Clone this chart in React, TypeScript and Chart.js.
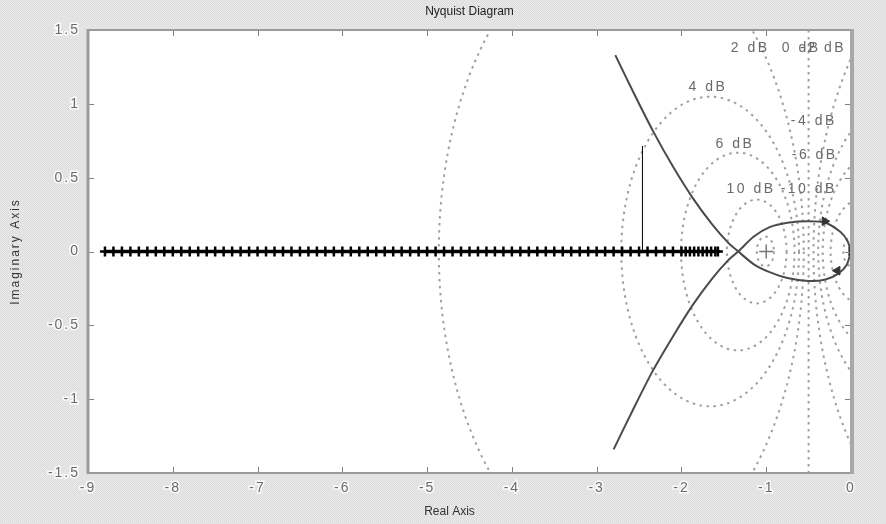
import { useEffect, useRef } from "react";
import { Chart, registerables } from "chart.js";

Chart.register(...registerables);

// ---- axes ----
const xMin = -9;
const xMax = 0;
const yMin = -1.5;
const yMax = 1.5;

// ---- M-circle grid (closed-loop gain, dB) ----
const mCircleDb = [-20, -10, -6, -4, -2, 0, 2, 4, 6, 10, 20];
const mLabelText = ["2 dB", "0 dB", "-2 dB", "4 dB", "-4 dB", "6 dB", "-6 dB", "10 dB", "-10 dB"];
const mLabelX = [-1.2, -0.6, -0.34, -1.7, -0.45, -1.38, -0.44, -1.19, -0.51];
const mLabelY = [1.38, 1.38, 1.38, 1.11, 0.88, 0.73, 0.65, 0.42, 0.42];

// ---- Nyquist curve: branch from top-left, through crossing, lower loop to origin ----
const branchAX = [-2.78, -2.56, -2.33, -2.1, -1.87, -1.64, -1.45, -1.33, -1.15, -0.96, -0.75, -0.5, -0.3, -0.15, -0.05, 0];
const branchAY = [1.33, 1.07, 0.81, 0.575, 0.365, 0.185, 0.06, 0, -0.085, -0.14, -0.18, -0.2, -0.19, -0.15, -0.09, 0];
// mirror branch: bottom-left, through crossing, upper loop to origin
const branchBX = [-2.8, -2.57, -2.34, -2.1, -1.87, -1.64, -1.45, -1.33, -1.15, -0.96, -0.75, -0.5, -0.3, -0.12, -0.04, 0];
const branchBY = [-1.34, -1.07, -0.81, -0.575, -0.365, -0.185, -0.06, 0, 0.1, 0.165, 0.195, 0.205, 0.195, 0.13, 0.07, 0];

// ---- marked points along the real axis ----
const crossX = [
  -8.8, -8.7, -8.6, -8.5, -8.4, -8.3, -8.2, -8.1, -8.0, -7.9, -7.8, -7.7, -7.6, -7.5, -7.4, -7.3, -7.2, -7.1,
  -7.0, -6.9, -6.8, -6.7, -6.6, -6.5, -6.4, -6.3, -6.2, -6.1, -6.0, -5.9, -5.8, -5.7, -5.6, -5.5, -5.4, -5.3,
  -5.2, -5.1, -5.0, -4.9, -4.8, -4.7, -4.6, -4.5, -4.4, -4.3, -4.2, -4.1, -4.0, -3.9, -3.8, -3.7, -3.6, -3.5,
  -3.4, -3.3, -3.2, -3.1, -3.0, -2.9, -2.8, -2.7, -2.6, -2.5, -2.4, -2.3, -2.2, -2.1, -2.0, -1.95, -1.9, -1.85,
  -1.8, -1.75, -1.7, -1.65, -1.6, -1.57,
];
const crossY = crossX.map(() => 0);

// ---- vertical marker line ----
const markerLineX = [-2.46, -2.46];
const markerLineY = [0, 0.715];

// ---- direction arrows and special points ----
const arrowX = [-0.31, -0.16, 0.005];
const arrowY = [0.205, -0.13, 0];
const arrowRot = [90, -90, 90];
const criticalX = [-1];
const criticalY = [0];

const pts = (xs: number[], ys: number[]) => xs.map((x, i) => ({ x, y: ys[i] }));

const FONT = "'Liberation Sans', Arial, Helvetica, sans-serif";

let bgPattern: CanvasPattern | null = null;
function getPattern(ctx: CanvasRenderingContext2D) {
  if (bgPattern) return bgPattern;
  const c = document.createElement("canvas");
  c.width = 2;
  c.height = 2;
  const g = c.getContext("2d")!;
  g.fillStyle = "#e9e9e9";
  g.fillRect(0, 0, 2, 2);
  g.fillStyle = "#dddddd";
  g.fillRect(0, 0, 1, 1);
  g.fillRect(1, 1, 1, 1);
  bgPattern = ctx.createPattern(c, "repeat");
  return bgPattern;
}

const backgroundPlugin = {
  id: "bgPlugin",
  beforeDraw(chart: any) {
    const { ctx, chartArea: a, width, height } = chart;
    ctx.save();
    ctx.fillStyle = getPattern(ctx) || "#e4e4e4";
    ctx.fillRect(0, 0, width, height);
    ctx.fillStyle = "#ffffff";
    ctx.fillRect(a.left, a.top, a.right - a.left, a.bottom - a.top);
    ctx.restore();
    // wide letter spacing for the axis texts drawn by the library
    (ctx as any).letterSpacing = "2px";
  },
};

const gridPlugin = {
  id: "mCircles",
  beforeDatasetsDraw(chart: any) {
    const { ctx, chartArea: a } = chart;
    const xs = chart.scales.x;
    const ys = chart.scales.y;
    ctx.save();
    ctx.beginPath();
    ctx.rect(a.left, a.top, a.right - a.left, a.bottom - a.top);
    ctx.clip();
    ctx.setLineDash([2.5, 4.5]);
    ctx.lineWidth = 2;
    ctx.strokeStyle = "#a0a0a0";
    for (const db of mCircleDb) {
      ctx.beginPath();
      if (db === 0) {
        const px = xs.getPixelForValue(-0.5);
        ctx.moveTo(px, a.top);
        ctx.lineTo(px, a.bottom);
      } else {
        const M = Math.pow(10, db / 20);
        const M2 = M * M;
        const cx = -M2 / (M2 - 1);
        const r = Math.abs(M / (M2 - 1));
        const px = xs.getPixelForValue(cx);
        const py = ys.getPixelForValue(0);
        const rx = Math.abs(xs.getPixelForValue(cx + r) - px);
        const ry = Math.abs(py - ys.getPixelForValue(r));
        ctx.ellipse(px, py, rx, ry, 0, 0, Math.PI * 2);
      }
      ctx.stroke();
    }
    ctx.setLineDash([]);
    ctx.font = `14px ${FONT}`;
    ctx.fillStyle = "#6a6a6a";
    ctx.textAlign = "center";
    ctx.textBaseline = "middle";
    (ctx as any).letterSpacing = "2.5px";
    mLabelText.forEach((t, i) => {
      ctx.fillText(t, xs.getPixelForValue(mLabelX[i]) + 1, ys.getPixelForValue(mLabelY[i]));
    });
    ctx.restore();
  },
};

const framePlugin = {
  id: "frame",
  afterDraw(chart: any) {
    const { ctx, chartArea: a } = chart;
    const xs = chart.scales.x;
    const ys = chart.scales.y;
    ctx.save();
    // inward ticks
    ctx.strokeStyle = "#808080";
    ctx.lineWidth = 1;
    ctx.beginPath();
    xs.ticks.forEach((t: any) => {
      const px = Math.round(xs.getPixelForValue(t.value)) + 0.5;
      ctx.moveTo(px, a.bottom);
      ctx.lineTo(px, a.bottom - 6);
      ctx.moveTo(px, a.top);
      ctx.lineTo(px, a.top + 6);
    });
    ys.ticks.forEach((t: any) => {
      const py = Math.round(ys.getPixelForValue(t.value)) + 0.5;
      ctx.moveTo(a.left, py);
      ctx.lineTo(a.left + 6, py);
      ctx.moveTo(a.right, py);
      ctx.lineTo(a.right - 6, py);
    });
    ctx.stroke();
    // frame
    ctx.strokeStyle = "#9a9a9a";
    ctx.lineWidth = 2;
    ctx.beginPath();
    ctx.moveTo(a.left, a.top);
    ctx.lineTo(a.right, a.top);
    ctx.moveTo(a.left, a.bottom);
    ctx.lineTo(a.right, a.bottom);
    ctx.stroke();
    ctx.lineWidth = 3;
    ctx.beginPath();
    ctx.moveTo(a.left, a.top - 1);
    ctx.lineTo(a.left, a.bottom + 1);
    ctx.stroke();
    ctx.strokeStyle = "#a8a8a8";
    ctx.lineWidth = 4;
    ctx.beginPath();
    ctx.moveTo(a.right + 1, a.top - 1);
    ctx.lineTo(a.right + 1, a.bottom + 1);
    ctx.stroke();
    // titles
    (ctx as any).letterSpacing = "0px";
    ctx.textAlign = "center";
    ctx.textBaseline = "middle";
    ctx.fillStyle = "#222";
    ctx.font = `12px ${FONT}`;
    ctx.fillText("Nyquist Diagram", (a.left + a.right) / 2, 12);
    ctx.fillStyle = "#333";
    ctx.fillText("Real Axis", (a.left + a.right) / 2 - 20, 512);
    ctx.restore();
  },
};

export default function App() {
  const ref = useRef<HTMLCanvasElement | null>(null);

  useEffect(() => {
    document.body.style.margin = "0";
    const canvas = ref.current!;
    const chart = new Chart(canvas, {
      type: "scatter",
      data: {
        datasets: [
          {
            label: "marks",
            data: pts(crossX, crossY),
            showLine: true,
            borderColor: "#000",
            borderWidth: 3.5,
            pointStyle: "cross",
            pointRadius: 5,
            pointBorderWidth: 2.5,
            pointBorderColor: "#000",
            order: 5,
          },
          {
            label: "branchA",
            data: pts(branchAX, branchAY),
            showLine: true,
            borderColor: "#4a4a4a",
            borderWidth: 2,
            pointRadius: 0,
            tension: 0.25,
            order: 4,
          },
          {
            label: "branchB",
            data: pts(branchBX, branchBY),
            showLine: true,
            borderColor: "#4a4a4a",
            borderWidth: 2,
            pointRadius: 0,
            tension: 0.25,
            order: 4,
          },
          {
            label: "marker",
            data: pts(markerLineX, markerLineY),
            showLine: true,
            borderColor: "#000",
            borderWidth: 1,
            pointRadius: 0,
            order: 3,
          },
          {
            label: "critical",
            data: pts(criticalX, criticalY),
            pointStyle: "cross",
            pointRadius: 7,
            pointBorderWidth: 1.5,
            pointBorderColor: "#777",
            order: 2,
          },
          {
            label: "arrows",
            data: pts(arrowX, arrowY),
            pointStyle: "triangle",
            pointRotation: arrowRot,
            pointRadius: 5,
            pointBackgroundColor: "#333",
            pointBorderColor: "#333",
            pointBorderWidth: 1,
            order: 1,
          },
        ],
      },
      options: {
        animation: false,
        responsive: false,
        maintainAspectRatio: false,
        layout: { padding: { left: 0, right: 35, top: 30, bottom: 0 } },
        plugins: {
          legend: { display: false },
          tooltip: { enabled: false },
          title: { display: false },
        },
        scales: {
          x: {
            type: "linear",
            min: xMin,
            max: xMax,
            grid: { display: false, drawTicks: false },
            border: { display: false },
            ticks: {
              stepSize: 1,
              padding: 7,
              color: "#6a6a6a",
              font: { family: FONT, size: 14 },
              textStrokeColor: "rgba(255,255,255,0.85)",
              textStrokeWidth: 3,
              callback: (v: any) => String(v),
            },
            afterFit: (s: any) => {
              s.height = 51;
            },
          },
          y: {
            type: "linear",
            min: yMin,
            max: yMax,
            grid: { display: false, drawTicks: false },
            border: { display: false },
            ticks: {
              stepSize: 0.5,
              padding: 8,
              color: "#6a6a6a",
              font: { family: FONT, size: 14 },
              textStrokeColor: "rgba(255,255,255,0.85)",
              textStrokeWidth: 3,
              callback: (v: any) => String(v),
            },
            title: {
              display: true,
              text: "Imaginary Axis",
              color: "#333",
              font: { family: FONT, size: 12 },
              padding: { top: 8, bottom: 0 },
            },
            afterFit: (s: any) => {
              s.width = 88;
            },
          },
        },
      },
      plugins: [backgroundPlugin, gridPlugin, framePlugin],
    } as any);
    return () => chart.destroy();
  }, []);

  return <canvas ref={ref} width={886} height={524} style={{ display: "block", width: 886, height: 524 }} />;
}
